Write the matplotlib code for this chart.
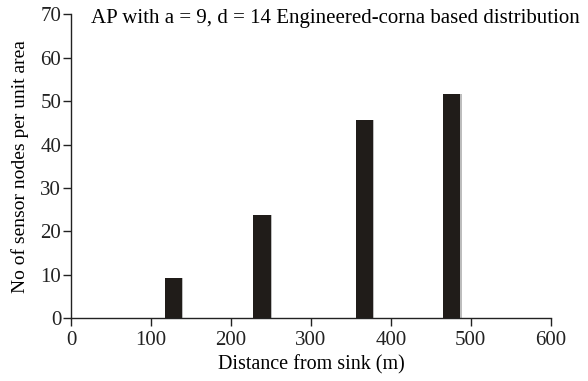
import matplotlib.pyplot as plt
import numpy as np

plt.rcParams['font.family'] = ['Liberation Serif', 'DejaVu Serif']

distance = [128, 239, 367, 476]
nodes = [9.2, 23.8, 45.6, 51.7]
xticks = [0, 100, 200, 300, 400, 500, 600]
yticks = [0, 10, 20, 30, 40, 50, 60, 70]

fig = plt.figure(figsize=(5.88, 3.81), dpi=100)
ax = fig.add_axes([0.1207, 0.1646, 0.816, 0.798])

ax.bar(np.array(distance) + 1.5, nodes, width=22, color='#bdbdbd', zorder=1)
ax.bar(distance, nodes, width=22, color='#201c19', zorder=2)

ax.set_xlim(0, 600)
ax.set_ylim(0, 70)
ax.set_xticks(xticks)
ax.set_yticks(yticks)
ax.tick_params(labelsize=15, length=6, width=1, colors='#222222')
ax.tick_params(axis='x', pad=3)
ax.tick_params(axis='y', pad=1)
for s in ['top', 'right']:
    ax.spines[s].set_visible(False)
for s in ['left', 'bottom']:
    ax.spines[s].set_color('#222222')
    ax.spines[s].set_linewidth(1)

ax.set_xlabel('Distance from sink (m)', fontsize=14.5, labelpad=4)
ax.set_ylabel('No of sensor nodes per unit area', fontsize=14, labelpad=8)
ax.text(25, 67.9, 'AP with a = 9, d = 14 Engineered-corna based distribution',
        fontsize=15, va='baseline', ha='left', clip_on=False)

plt.savefig('out.png', dpi=100)
